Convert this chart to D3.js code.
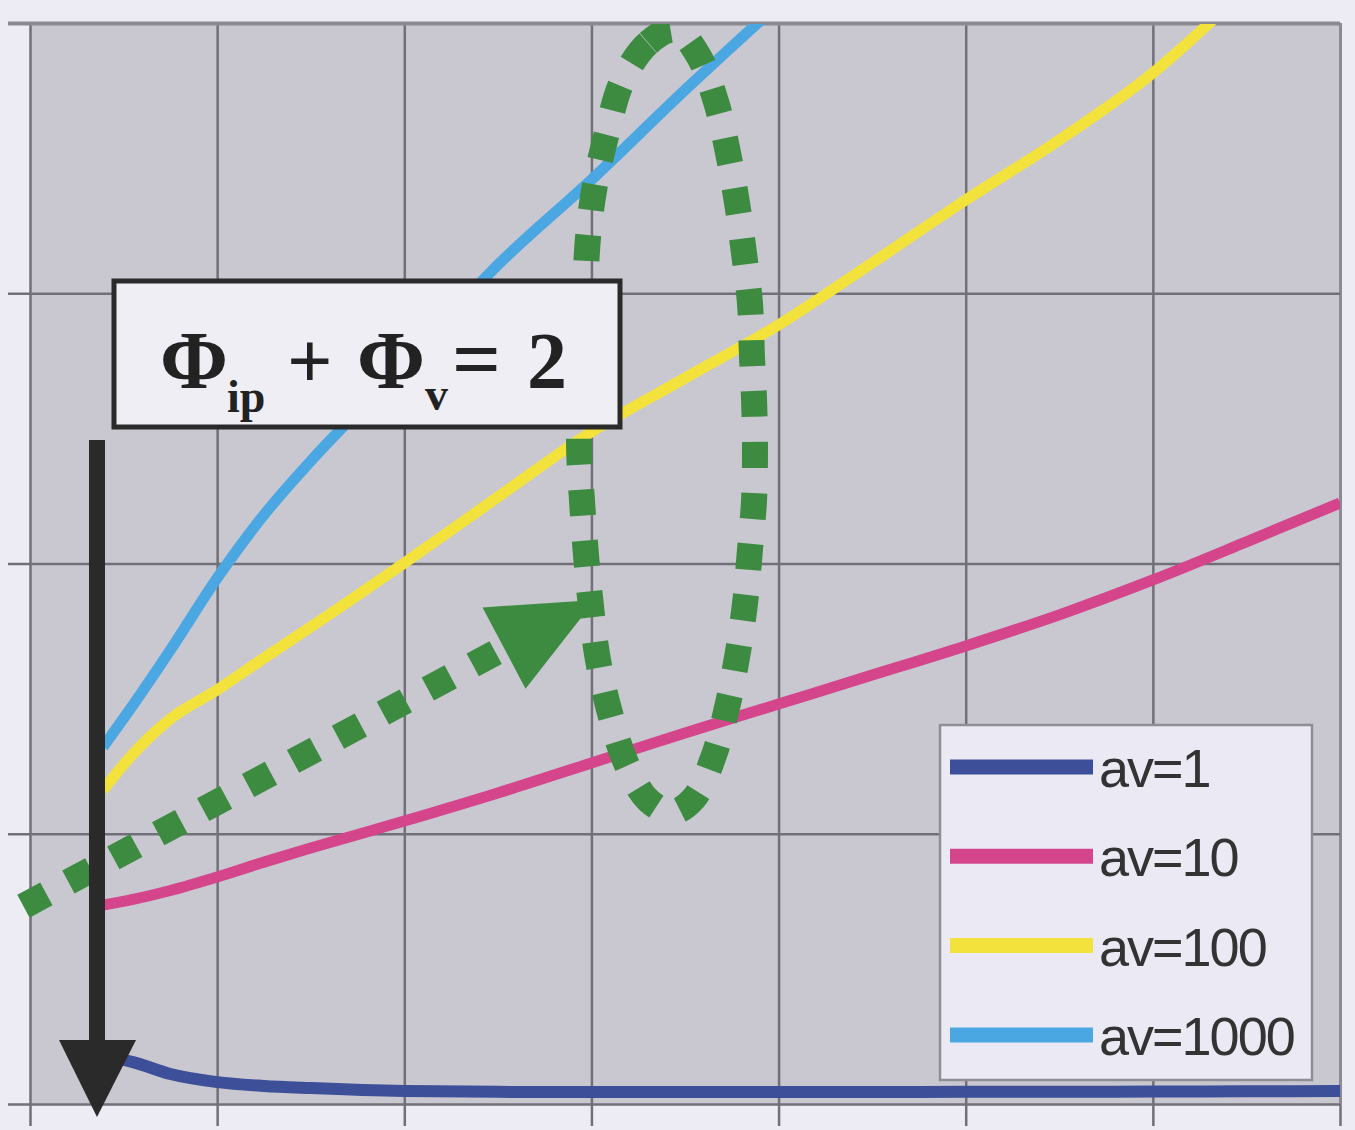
<!DOCTYPE html>
<html>
<head>
<meta charset="utf-8">
<script src="https://cdn.jsdelivr.net/npm/d3@7"></script>
<style>
  body { margin: 0; background: #edecf4; }
  svg { display: block; }
</style>
</head>
<body>
<script>
// ---- data ----
var xVals   = [0.39, 0.55, 0.75, 1, 1.25, 1.5, 2, 2.5, 3, 3.5, 4, 4.5, 5, 5.5, 6, 6.5, 7];
var av1     = [0.178, 0.155, 0.111, 0.081, 0.067, 0.059, 0.048, 0.045, 0.044, 0.044, 0.044, 0.044, 0.045, 0.045, 0.046, 0.047, 0.048];
var av10    = [0.736, 0.757, 0.790, 0.840, 0.895, 0.947, 1.047, 1.151, 1.262, 1.373, 1.480, 1.587, 1.695, 1.810, 1.939, 2.080, 2.224];
var av100   = [1.162, 1.295, 1.425, 1.532, 1.650, 1.765, 2.002, 2.246, 2.487, 2.686, 2.883, 3.112, 3.345, 3.567, 3.815, 4.13, null];
var av1000  = [1.321, 1.476, 1.680, 1.946, 2.180, 2.379, 2.735, 3.105, 3.420, 3.752, 4.07, null, null, null, null, null, null];

var seriesNames  = ["av=1", "av=10", "av=100", "av=1000"];
var seriesColors = ["#3c4f98", "#d4458c", "#f4e23c", "#4ba7e2"];

var xTicks = [0, 1, 2, 3, 4, 5, 6, 7];
var yTicks = [0, 1, 2, 3, 4];

// green dotted trend arrow (start, arrow base, arrow tip)
var trendX = [-0.035, 2.533, 3.019];
var trendY = [0.732, 1.687, 1.865];

// green dotted loop
var loopX = [3.447, 3.302, 3.163, 3.083, 3.019, 2.982, 2.966, 2.950, 2.939, 2.934, 2.950, 2.971, 2.998, 3.035, 3.099, 3.185, 3.302, 3.431, 3.548, 3.655, 3.730, 3.783, 3.821, 3.847, 3.869, 3.874, 3.869, 3.858, 3.847, 3.815, 3.778, 3.730, 3.666, 3.569];
var loopY = [3.975, 3.925, 3.782, 3.593, 3.401, 3.208, 3.012, 2.809, 2.624, 2.427, 2.228, 2.031, 1.839, 1.643, 1.447, 1.262, 1.125, 1.080, 1.132, 1.291, 1.484, 1.673, 1.854, 2.050, 2.235, 2.431, 2.605, 2.764, 2.964, 3.149, 3.334, 3.519, 3.708, 3.882];

// black arrow (x, top, base of head, tip)
var drop = [0.358, 2.457, 0.237, -0.048];

function main() {
    var width = 1355, height = 1130;
    var left = 30, right = 1340, top = 23, bottom = 1104;

    var svg = d3.select("body").append("svg")
                .attr("width", width)
                .attr("height", height);

    var x = d3.scaleLinear().domain([0, 7]).range([left, right]);
    var y = d3.scaleLinear().domain([0, 4]).range([bottom, top]);

    svg.append("rect")
       .attr("x", left).attr("y", top)
       .attr("width", right - left).attr("height", bottom - top)
       .attr("fill", "#c9c8d1");

    svg.append("clipPath").attr("id", "plot")
       .append("rect")
       .attr("x", left).attr("y", top + 1)
       .attr("width", right - left).attr("height", bottom - top);
    svg.append("clipPath").attr("id", "top")
       .append("rect")
       .attr("x", 0).attr("y", top + 1)
       .attr("width", width).attr("height", height);

    // grid + outer ticks
    var gx = svg.append("g").attr("transform", "translate(0," + bottom + ")")
                .call(d3.axisBottom(x).tickValues(xTicks).tickSizeInner(-(bottom - top)).tickSizeOuter(0).tickFormat(""));
    var gx2 = svg.append("g").attr("transform", "translate(0," + bottom + ")")
                .call(d3.axisBottom(x).tickValues(xTicks).tickSize(22).tickFormat(""));
    var gy = svg.append("g").attr("transform", "translate(" + right + ",0)")
                .call(d3.axisLeft(y).tickValues(yTicks).tickSizeInner(right - 8).tickSizeOuter(0).tickFormat(""));
    [gx, gx2, gy].forEach(function(g) {
        g.select(".domain").remove();
        g.selectAll("line").attr("stroke", "#717079").attr("stroke-width", 2.5);
    });
    gy.selectAll("line").filter(function(d) { return d === 4; })
      .attr("stroke", "#8b8a93").attr("stroke-width", 4);
    gx.selectAll("line").filter(function(d) { return d === 7; })
      .attr("stroke", "#8b8a93").attr("stroke-width", 3);

    // series lines
    var line = d3.line()
                 .defined(function(d) { return d[1] !== null; })
                 .x(function(d) { return x(d[0]); })
                 .y(function(d) { return y(d[1]); })
                 .curve(d3.curveMonotoneX);

    var allSeries = [av1, av10, av100, av1000];
    var lines = svg.append("g").attr("clip-path", "url(#plot)");
    allSeries.forEach(function(vals, i) {
        lines.append("path")
             .datum(xVals.map(function(v, j) { return [v, vals[j]]; }))
             .attr("d", line)
             .attr("fill", "none")
             .attr("stroke", seriesColors[i])
             .attr("stroke-width", i === 0 ? 12 : 11)
             .attr("stroke-linejoin", "round");
    });

    // green dotted annotations
    var green = "#3d8b40";
    var trendPts = [[x(trendX[0]), y(trendY[0])], [x(trendX[1]), y(trendY[1])]];
    svg.append("path")
       .attr("d", d3.line()(trendPts))
       .attr("fill", "none")
       .attr("stroke", green)
       .attr("stroke-width", 26)
       .attr("stroke-dasharray", "26 25");

    var bx = x(trendX[1]), by = y(trendY[1]), tx = x(trendX[2]), ty = y(trendY[2]);
    var len = Math.hypot(tx - bx, ty - by);
    var px = -(ty - by) / len * 46, py = (tx - bx) / len * 46;
    svg.append("polygon")
       .attr("points", [[tx, ty], [bx + px, by + py], [bx - px, by - py]].join(" "))
       .attr("fill", green);

    var loopLine = d3.line()
                     .x(function(d) { return x(d[0]); })
                     .y(function(d) { return y(d[1]); })
                     .curve(d3.curveCatmullRomClosed);
    svg.append("path")
       .datum(loopX.map(function(v, j) { return [v, loopY[j]]; }))
       .attr("d", loopLine)
       .attr("clip-path", "url(#top)")
       .attr("fill", "none")
       .attr("stroke", green)
       .attr("stroke-width", 26)
       .attr("stroke-dasharray", "26 25");

    // formula box
    svg.append("rect")
       .attr("x", 114).attr("y", 281)
       .attr("width", 506).attr("height", 146)
       .attr("fill", "#efeef5")
       .attr("stroke", "#2a2a2a")
       .attr("stroke-width", 5);

    var f = svg.append("text")
               .attr("font-family", "'Liberation Serif', 'Times New Roman', serif")
               .attr("font-weight", "bold")
               .attr("fill", "#222");
    f.append("tspan").attr("x", 160).attr("y", 388).attr("font-size", 82).text("Φ");
    f.append("tspan").attr("x", 227).attr("y", 412).attr("font-size", 46).text("ip");
    f.append("tspan").attr("x", 287).attr("y", 388).attr("font-size", 80).text("+");
    f.append("tspan").attr("x", 357).attr("y", 388).attr("font-size", 82).text("Φ");
    f.append("tspan").attr("x", 425).attr("y", 410).attr("font-size", 46).text("v");
    f.append("tspan").attr("x", 452).attr("y", 388).attr("font-size", 86).text("=");
    f.append("tspan").attr("x", 527).attr("y", 388).attr("font-size", 80).text("2");

    // black down arrow
    var ax = x(drop[0]);
    svg.append("rect")
       .attr("x", ax - 8).attr("y", y(drop[1]))
       .attr("width", 16).attr("height", y(drop[2]) - y(drop[1]) + 2)
       .attr("fill", "#2a2a2a");
    svg.append("polygon")
       .attr("points", [[ax - 38, y(drop[2])], [ax + 39, y(drop[2])], [ax, y(drop[3])]].join(" "))
       .attr("fill", "#2a2a2a");

    // legend
    var lg = svg.append("g");
    lg.append("rect")
      .attr("x", 940).attr("y", 725)
      .attr("width", 372).attr("height", 355)
      .attr("fill", "#ebeaf4")
      .attr("stroke", "#8f8e97")
      .attr("stroke-width", 2.5);
    seriesNames.forEach(function(name, i) {
        var ly = 767 + i * 89.3;
        lg.append("line")
          .attr("x1", 950).attr("x2", 1093)
          .attr("y1", ly).attr("y2", ly)
          .attr("stroke", seriesColors[i])
          .attr("stroke-width", 15);
        lg.append("text")
          .attr("x", 1099).attr("y", ly + 20)
          .attr("font-family", "'Liberation Sans', Arial, sans-serif")
          .attr("font-size", 54)
          .attr("letter-spacing", -2)
          .attr("fill", "#333")
          .text(name);
    });
}
main();
</script>
</body>
</html>
